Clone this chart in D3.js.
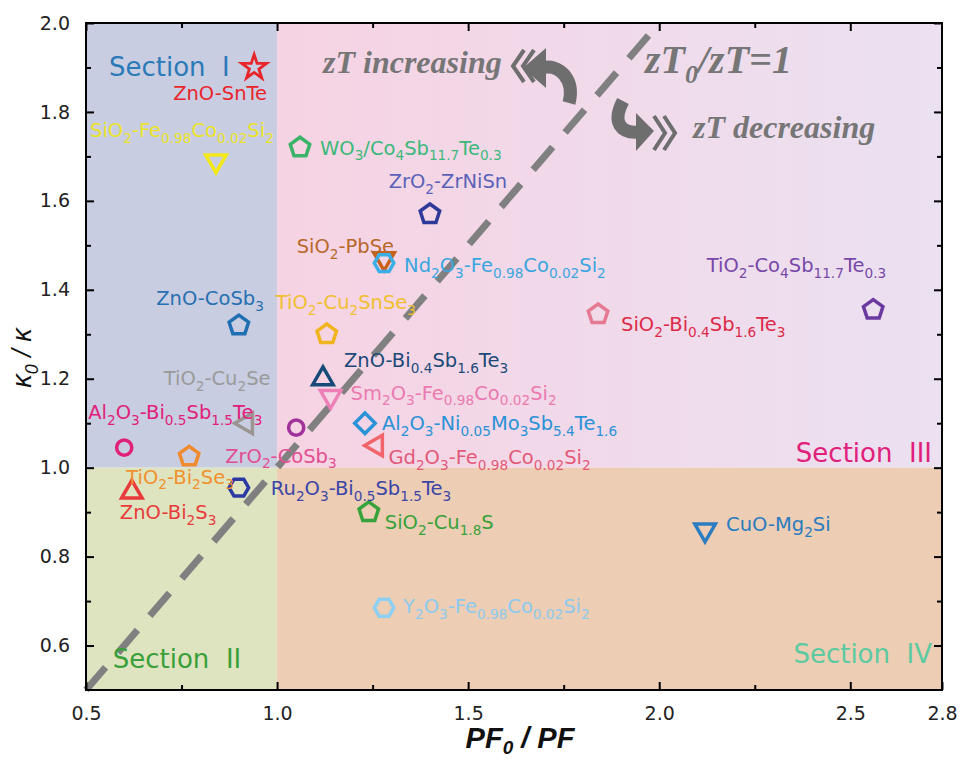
<!DOCTYPE html>
<html>
<head>
<meta charset="utf-8">
<script src="https://cdn.jsdelivr.net/npm/d3@7"></script>
<style>
  body { margin: 0; background: #fff; }
</style>
</head>
<body>
<svg id="chart" width="960" height="760" font-family="DejaVu Sans, sans-serif"></svg>
<script>
// values
const materials = [
  "ZnO-SnTe", "SiO_{2}-Fe_{0.98}Co_{0.02}Si_{2}", "WO_{3}/Co_{4}Sb_{11.7}Te_{0.3}", "ZrO_{2}-ZrNiSn",
  "SiO_{2}-PbSe", "Nd_{2}O_{3}-Fe_{0.98}Co_{0.02}Si_{2}", "TiO_{2}-Co_{4}Sb_{11.7}Te_{0.3}",
  "SiO_{2}-Bi_{0.4}Sb_{1.6}Te_{3}", "ZnO-CoSb_{3}", "TiO_{2}-Cu_{2}SnSe_{3}", "ZnO-Bi_{0.4}Sb_{1.6}Te_{3}",
  "TiO_{2}-Cu_{2}Se", "Al_{2}O_{3}-Bi_{0.5}Sb_{1.5}Te_{3}", "TiO_{2}-Bi_{2}Se_{3}", "ZnO-Bi_{2}S_{3}",
  "ZrO_{2}-CoSb_{3}", "Sm_{2}O_{3}-Fe_{0.98}Co_{0.02}Si_{2}", "Al_{2}O_{3}-Ni_{0.05}Mo_{3}Sb_{5.4}Te_{1.6}",
  "Gd_{2}O_{3}-Fe_{0.98}Co_{0.02}Si_{2}", "Ru_{2}O_{3}-Bi_{0.5}Sb_{1.5}Te_{3}", "SiO_{2}-Cu_{1.8}S",
  "CuO-Mg_{2}Si", "Y_{2}O_{3}-Fe_{0.98}Co_{0.02}Si_{2}"
];
const pfRatio = [0.94, 0.84, 1.06, 1.40, 1.28, 1.28, 2.56, 1.84, 0.90, 1.13, 1.12, 0.92, 0.60,
  0.77, 0.62, 1.05, 1.14, 1.23, 1.26, 0.90, 1.24, 2.12, 1.28];
const kappaRatio = [1.90, 1.69, 1.72, 1.57, 1.47, 1.46, 1.355, 1.345, 1.32, 1.30, 1.20, 1.10, 1.045,
  1.025, 0.945, 1.09, 1.16, 1.10, 1.05, 0.955, 0.90, 0.86, 0.685];
const shapes = ["star", "triDown", "pent", "pent", "triDown", "hex", "pent", "pent", "pent", "pent",
  "tri", "triLeft", "circle", "pent", "tri", "circle", "triDown", "diamond", "triLeft", "hex",
  "pent", "triDown", "hex"];
const markerColors = ["#e8252a", "#f2e81a", "#3bb36a", "#2e3a9a", "#c8601e", "#3aaee6", "#6a3aa0",
  "#e57a92", "#1f6fb2", "#f0b41e", "#174a78", "#9a9590", "#e0207a", "#f08a2e", "#e83a3a", "#a0329a",
  "#ee80b8", "#2a92d6", "#f0646a", "#2a3aa2", "#38a23a", "#2b7cc0", "#8cd0f4"];
const labelColors = ["#e8252a", "#ece42a", "#3bb87a", "#5a62b8", "#b8682a", "#3aa6e0", "#7848a8",
  "#dc2a48", "#2670b0", "#f0c030", "#1c4a78", "#9a9a9a", "#e0207a", "#f0902e", "#e83a3a", "#e24e92",
  "#ea7ab0", "#2a92d6", "#e25a78", "#3a46a8", "#38a23a", "#2b7cc0", "#8ccaf0"];

const xTickValues = [0.5, 1.0, 1.5, 2.0, 2.5, 2.74];
const xTickLabels = ["0.5", "1.0", "1.5", "2.0", "2.5", "2.8"];
const yTickValues = [0.6, 0.8, 1.0, 1.2, 1.4, 1.6, 1.8, 2.0];
const sections = ["Section  I", "Section  II", "Section  III", "Section  IV"];

// label placement (pixels from marker): dx, dy, anchor
const labelPos = [
  [-34, 33, "middle"], [-34, -24, "middle"], [20, 7, "start"], [18, -26, "middle"],
  [10, -6, "end"], [20, 9, "start"], [13, -38, "end"], [23, 17, "start"],
  [25, -20, "end"], [-51, -25, "start"], [21, -12, "start"], [24, -38, "end"],
  [-36, -29, "start"], [-63, 27, "start"], [-12, 27, "start"], [-71, 35, "start"],
  [20, 3, "start"], [17, 7, "start"], [12, 19, "start"], [32, 7, "start"],
  [16, 17, "start"], [21, 1, "start"], [19, 5, "start"]
];

const svg = d3.select('#chart');
const mLeft = 86, mRight = 942, mTop = 23, mBottom = 690;

const x = d3.scaleLinear().domain([0.5, 2.74]).range([mLeft, mRight]);
const y = d3.scaleLinear().domain([0.5, 2.0]).range([mBottom, mTop]);

// background sections
const defs = svg.append('defs');
const grad = defs.append('linearGradient').attr('id', 'sec3');
grad.append('stop').attr('offset', '0%').attr('stop-color', '#f6d3e3');
grad.append('stop').attr('offset', '100%').attr('stop-color', '#ebe1f1');

svg.append('rect').attr('x', x(0.5)).attr('y', y(2.0))
  .attr('width', x(1.0) - x(0.5)).attr('height', y(1.0) - y(2.0)).attr('fill', '#c9cde1');
svg.append('rect').attr('x', x(0.5)).attr('y', y(1.0))
  .attr('width', x(1.0) - x(0.5)).attr('height', y(0.5) - y(1.0)).attr('fill', '#dfe4c0');
svg.append('rect').attr('x', x(1.0)).attr('y', y(2.0))
  .attr('width', x(2.74) - x(1.0)).attr('height', y(1.0) - y(2.0)).attr('fill', 'url(#sec3)');
svg.append('rect').attr('x', x(1.0)).attr('y', y(1.0))
  .attr('width', x(2.74) - x(1.0)).attr('height', y(0.5) - y(1.0)).attr('fill', '#edcdb3');

// zT0/zT = 1 line
svg.append('line')
  .attr('x1', x(0.5)).attr('y1', y(0.5)).attr('x2', x(1.985)).attr('y2', y(1.985))
  .attr('stroke', '#808080').attr('stroke-width', 7).attr('stroke-dasharray', '30 19');

// section titles
const secPos = [[x(0.56), y(1.88), '#2a7ab8', 'start'], [x(0.57), y(0.55), '#3aa03a', 'start'],
  [mRight - 10, y(1.00) - 6, '#e0207a', 'end'], [mRight - 10, y(0.56), '#5ccaa0', 'end']];
sections.forEach((s, i) => {
  svg.append('text').attr('x', secPos[i][0]).attr('y', secPos[i][1])
    .attr('text-anchor', secPos[i][3])
    .attr('font-size', 26).attr('fill', secPos[i][2]).style('white-space', 'pre').text(s);
});

// annotations
const grey = '#767676';
const serif = 'Liberation Serif, DejaVu Serif, serif';
svg.append('text').attr('x', 323).attr('y', 73).attr('font-family', serif)
  .attr('font-style', 'italic').attr('font-weight', 'bold').attr('font-size', 32)
  .attr('fill', grey).text('zT increasing');
svg.append('text').attr('x', 693).attr('y', 138).attr('font-family', serif)
  .attr('font-style', 'italic').attr('font-weight', 'bold').attr('font-size', 32)
  .attr('fill', grey).text('zT decreasing');
const zt = svg.append('text').attr('x', 645).attr('y', 73).attr('font-family', serif)
  .attr('font-style', 'italic').attr('font-weight', 'bold').attr('font-size', 40).attr('fill', grey);
zt.append('tspan').text('zT');
zt.append('tspan').attr('font-size', 26).attr('dy', 10).text('0');
zt.append('tspan').attr('dy', -10).text('/zT=1');

// curved arrows and chevrons
svg.append('path').attr('d', 'M541,68 C560,63 575,80 569,103')
  .attr('fill', 'none').attr('stroke', '#6e6e6e').attr('stroke-width', 13);
svg.append('path').attr('d', 'M523,68 L546,48 L546,88 Z').attr('fill', '#6e6e6e');
svg.append('path').attr('d', 'M623,101 C612,122 620,134 640,132')
  .attr('fill', 'none').attr('stroke', '#6e6e6e').attr('stroke-width', 13);
svg.append('path').attr('d', 'M654,131 L636,113 L636,151 Z').attr('fill', '#6e6e6e');
[524, 534].forEach(cx => {
  svg.append('path').attr('d', `M${cx},50 L${cx - 11},66 L${cx},82`)
    .attr('fill', 'none').attr('stroke', '#6e6e6e').attr('stroke-width', 4);
});
[654, 664].forEach(cx => {
  svg.append('path').attr('d', `M${cx},116 L${cx + 11},133 L${cx},150`)
    .attr('fill', 'none').attr('stroke', '#6e6e6e').attr('stroke-width', 4);
});

// axes
function styleAxis(g) {
  g.select('.domain').remove();
  g.selectAll('.tick line').attr('stroke', '#000').attr('stroke-width', 2);
  g.selectAll('.tick text').attr('font-size', 19).attr('fill', '#222')
    .attr('font-family', 'DejaVu Sans, sans-serif');
}
const xMinor = [0.75, 1.25, 1.75, 2.25];
const yMinor = [0.7, 0.9, 1.1, 1.3, 1.5, 1.7, 1.9];

svg.append('g').attr('transform', `translate(0,${mBottom})`)
  .call(d3.axisBottom(x).tickValues(xTickValues).tickSize(-8).tickPadding(17)
    .tickFormat((d, i) => xTickLabels[i])).call(styleAxis);
svg.append('g').attr('transform', `translate(0,${mBottom})`)
  .call(d3.axisBottom(x).tickValues(xMinor).tickSize(-5).tickFormat('')).call(styleAxis);
svg.append('g').attr('transform', `translate(0,${mTop})`)
  .call(d3.axisTop(x).tickValues(xTickValues.slice(0, 5)).tickSize(-8).tickFormat('')).call(styleAxis);
svg.append('g').attr('transform', `translate(0,${mTop})`)
  .call(d3.axisTop(x).tickValues(xMinor).tickSize(-5).tickFormat('')).call(styleAxis);
svg.append('g').attr('transform', `translate(${mLeft},0)`)
  .call(d3.axisLeft(y).tickValues(yTickValues).tickSize(-8).tickPadding(16)
    .tickFormat(d3.format('.1f'))).call(styleAxis);
svg.append('g').attr('transform', `translate(${mLeft},0)`)
  .call(d3.axisLeft(y).tickValues(yMinor).tickSize(-5).tickFormat('')).call(styleAxis);
svg.append('g').attr('transform', `translate(${mRight},0)`)
  .call(d3.axisRight(y).tickValues(yTickValues).tickSize(-8).tickFormat('')).call(styleAxis);
svg.append('g').attr('transform', `translate(${mRight},0)`)
  .call(d3.axisRight(y).tickValues(yMinor).tickSize(-5).tickFormat('')).call(styleAxis);

svg.append('rect').attr('x', mLeft).attr('y', mTop).attr('width', mRight - mLeft)
  .attr('height', mBottom - mTop).attr('fill', 'none').attr('stroke', '#000').attr('stroke-width', 2);

// axis titles
const xt = svg.append('text').attr('x', 520).attr('y', 748).attr('text-anchor', 'middle')
  .attr('font-family', 'Liberation Sans, Arial, sans-serif').attr('font-weight', 'bold')
  .attr('font-style', 'italic').attr('font-size', 29).attr('fill', '#111');
xt.append('tspan').text('PF');
xt.append('tspan').attr('font-size', 19).attr('dy', 6).text('0');
xt.append('tspan').attr('dy', -6).text(' / PF');

const yt = svg.append('text').attr('transform', 'translate(31,358) rotate(-90)')
  .attr('text-anchor', 'middle').attr('font-family', 'Liberation Sans, Arial, sans-serif')
  .attr('font-style', 'italic').attr('font-size', 27).attr('fill', '#111');
yt.append('tspan').text('κ');
yt.append('tspan').attr('font-size', 18).attr('dy', 7).text('0');
yt.append('tspan').attr('dy', -7).text(' / κ');

// markers
function polygon(n, rot) {
  return {
    draw(ctx, size) {
      const r = Math.sqrt(size) / 2;
      for (let k = 0; k < n; k++) {
        const a = rot + k * 2 * Math.PI / n;
        const px = r * Math.sin(a), py = -r * Math.cos(a);
        if (k === 0) ctx.moveTo(px, py); else ctx.lineTo(px, py);
      }
      ctx.closePath();
    }
  };
}
const symbolDefs = {
  star: [d3.symbolStar, 190, 0],
  pent: [polygon(5, 0), 420, 0],
  hex: [polygon(6, Math.PI / 6), 380, 0],
  tri: [polygon(3, 0), 560, 0],
  triDown: [polygon(3, 0), 560, 180],
  triLeft: [polygon(3, 0), 560, -90],
  circle: [d3.symbolCircle, 180, 0],
  diamond: [polygon(4, 0), 420, 0]
};

const idx = d3.range(materials.length);
svg.append('g').selectAll('path').data(idx).enter().append('path')
  .attr('d', i => d3.symbol().type(symbolDefs[shapes[i]][0]).size(symbolDefs[shapes[i]][1])())
  .attr('transform', i => `translate(${x(pfRatio[i])},${y(kappaRatio[i])}) rotate(${symbolDefs[shapes[i]][2]})`)
  .attr('fill', 'none').attr('stroke', i => markerColors[i])
  .attr('stroke-width', i => shapes[i] === 'star' ? 2.8 : 3.5)
  .attr('stroke-linejoin', 'miter');

// labels with subscripts
function richText(t, s, size) {
  let shifted = false;
  const sh = size * 0.3;
  s.split(/(_\{[^}]*\})/).forEach(p => {
    if (!p) return;
    if (p.startsWith('_{')) {
      t.append('tspan').attr('font-size', size * 0.7).attr('dy', shifted ? 0 : sh).text(p.slice(2, -1));
      shifted = true;
    } else {
      t.append('tspan').attr('dy', shifted ? -sh : 0).text(p);
      shifted = false;
    }
  });
}
const labelSize = 19.5;
idx.forEach(i => {
  const t = svg.append('text')
    .attr('x', x(pfRatio[i]) + labelPos[i][0])
    .attr('y', y(kappaRatio[i]) + labelPos[i][1])
    .attr('text-anchor', labelPos[i][2])
    .attr('font-size', labelSize).attr('fill', labelColors[i]);
  richText(t, materials[i], labelSize);
});
</script>
</body>
</html>
